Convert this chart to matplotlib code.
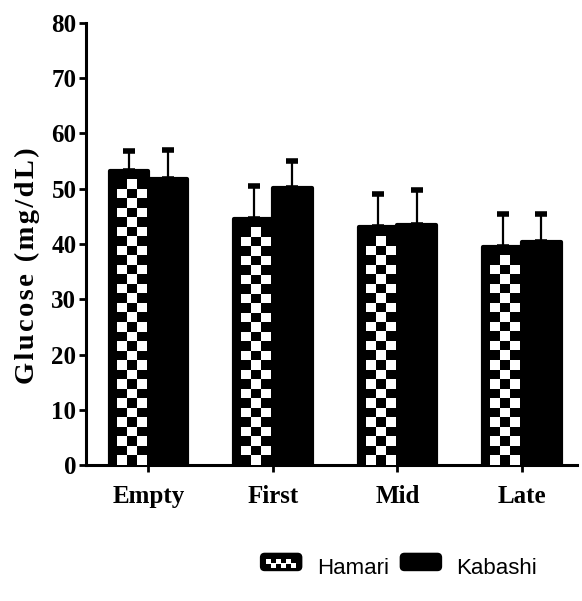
import numpy as np
import matplotlib
matplotlib.use('Agg')
import matplotlib.pyplot as plt
from matplotlib.patches import FancyBboxPatch, Rectangle
from matplotlib.legend_handler import HandlerBase

# glucose by stage, mean and upper SD
stages = ['Empty', 'First', 'Mid', 'Late']
hamari_mean = [53.2, 44.6, 43.0, 39.5]
hamari_sd = [3.6, 5.9, 6.0, 6.0]
kabashi_mean = [51.8, 50.2, 43.4, 40.4]
kabashi_sd = [5.2, 4.8, 6.4, 5.0]

serif = ['Liberation Serif', 'DejaVu Serif']
sans = ['Liberation Sans Narrow', 'Liberation Sans', 'DejaVu Sans']

fig = plt.figure(figsize=(5.82, 6.01), dpi=100)
ax = fig.add_axes([0.148, 0.226, 0.843, 0.736])

x = np.arange(len(stages))
w = 0.31

bars_h = ax.bar(x - w / 2, hamari_mean, w, color='black', edgecolor='black',
                linewidth=3, joinstyle='round', zorder=2)
bars_k = ax.bar(x + w / 2, kabashi_mean, w, color='black', edgecolor='black',
                linewidth=3, joinstyle='round', zorder=2)

# checkerboard fill inside the Hamari bars
cell_h = 1.7
for b in bars_h:
    x0, bw, h = b.get_x(), b.get_width(), b.get_height()
    left, right = x0 + 0.055, x0 + bw - 0.02
    top = h - 1.6
    nrows = max(1, int(round(top / cell_h)))
    board = (np.add.outer(np.arange(nrows), np.arange(3)) % 2).astype(float)
    im = ax.imshow(board, cmap='gray', vmin=0, vmax=1, interpolation='nearest',
                   extent=[left, right, 0, top], origin='upper',
                   aspect='auto', zorder=3)
    im.set_clip_path(b)

for xs, m, s in [(x - w / 2, hamari_mean, hamari_sd), (x + w / 2, kabashi_mean, kabashi_sd)]:
    eb = ax.errorbar(xs, m, yerr=[np.zeros(len(s)), s], fmt='none', ecolor='black',
                     elinewidth=1.6, capsize=4, capthick=4, zorder=1)
    for c in eb[1]:
        c.set_solid_capstyle('round')

ax.set_xlim(-0.5, 3.44)
ax.set_ylim(0, 80)
ax.set_yticks(range(0, 81, 10))
ax.set_xticks(x)
ax.set_xticklabels(stages)
for sp in ['top', 'right']:
    ax.spines[sp].set_visible(False)
for sp in ['left', 'bottom']:
    ax.spines[sp].set_linewidth(2.2)
ax.tick_params(axis='y', length=5, width=2, pad=2)
ax.tick_params(axis='x', length=5, width=2, pad=9)
for lab in ax.get_yticklabels() + ax.get_xticklabels():
    lab.set_family(serif)
    lab.set_fontweight('bold')
    lab.set_fontsize(18)

# slightly letter-spaced axis title
ylab = '\u200a'.join('Glucose (mg/dL)')
ax.set_ylabel(ylab, family=serif, fontweight='bold', fontsize=20.5)
ax.yaxis.set_label_coords(-0.094, 0.452)


class CheckerHandler(HandlerBase):
    def create_artists(self, legend, orig, xd, yd, width, height, fontsize, trans):
        box = FancyBboxPatch((xd + 2, yd + 1), width - 4, height - 2,
                             boxstyle='round,pad=0,rounding_size=3',
                             facecolor='black', edgecolor='black', lw=1, transform=trans)
        arts = [box]
        n = 6
        sw = (width - 12) / n
        for i in range(n):
            yy = yd + height * (0.42 if i % 2 == 0 else 0.22)
            arts.append(Rectangle((xd + 6 + i * sw, yy), sw * 0.9, height * 0.22,
                                  facecolor='white', edgecolor='none', transform=trans))
        return arts


class SolidHandler(HandlerBase):
    def create_artists(self, legend, orig, xd, yd, width, height, fontsize, trans):
        box = FancyBboxPatch((xd + 2, yd + 1), width - 4, height - 2,
                             boxstyle='round,pad=0,rounding_size=3',
                             facecolor='black', edgecolor='black', lw=1, transform=trans)
        return [box]


leg = fig.legend([bars_h, bars_k], ['Hamari', 'Kabashi'], loc='center',
                 bbox_to_anchor=(0.683, 0.055), ncol=2, frameon=False,
                 handlelength=2.1, handleheight=1.0, handletextpad=0.55, columnspacing=0.4,
                 prop={'family': sans, 'size': 16},
                 handler_map={bars_h: CheckerHandler(), bars_k: SolidHandler()})

fig.savefig('out.png', dpi=100)
